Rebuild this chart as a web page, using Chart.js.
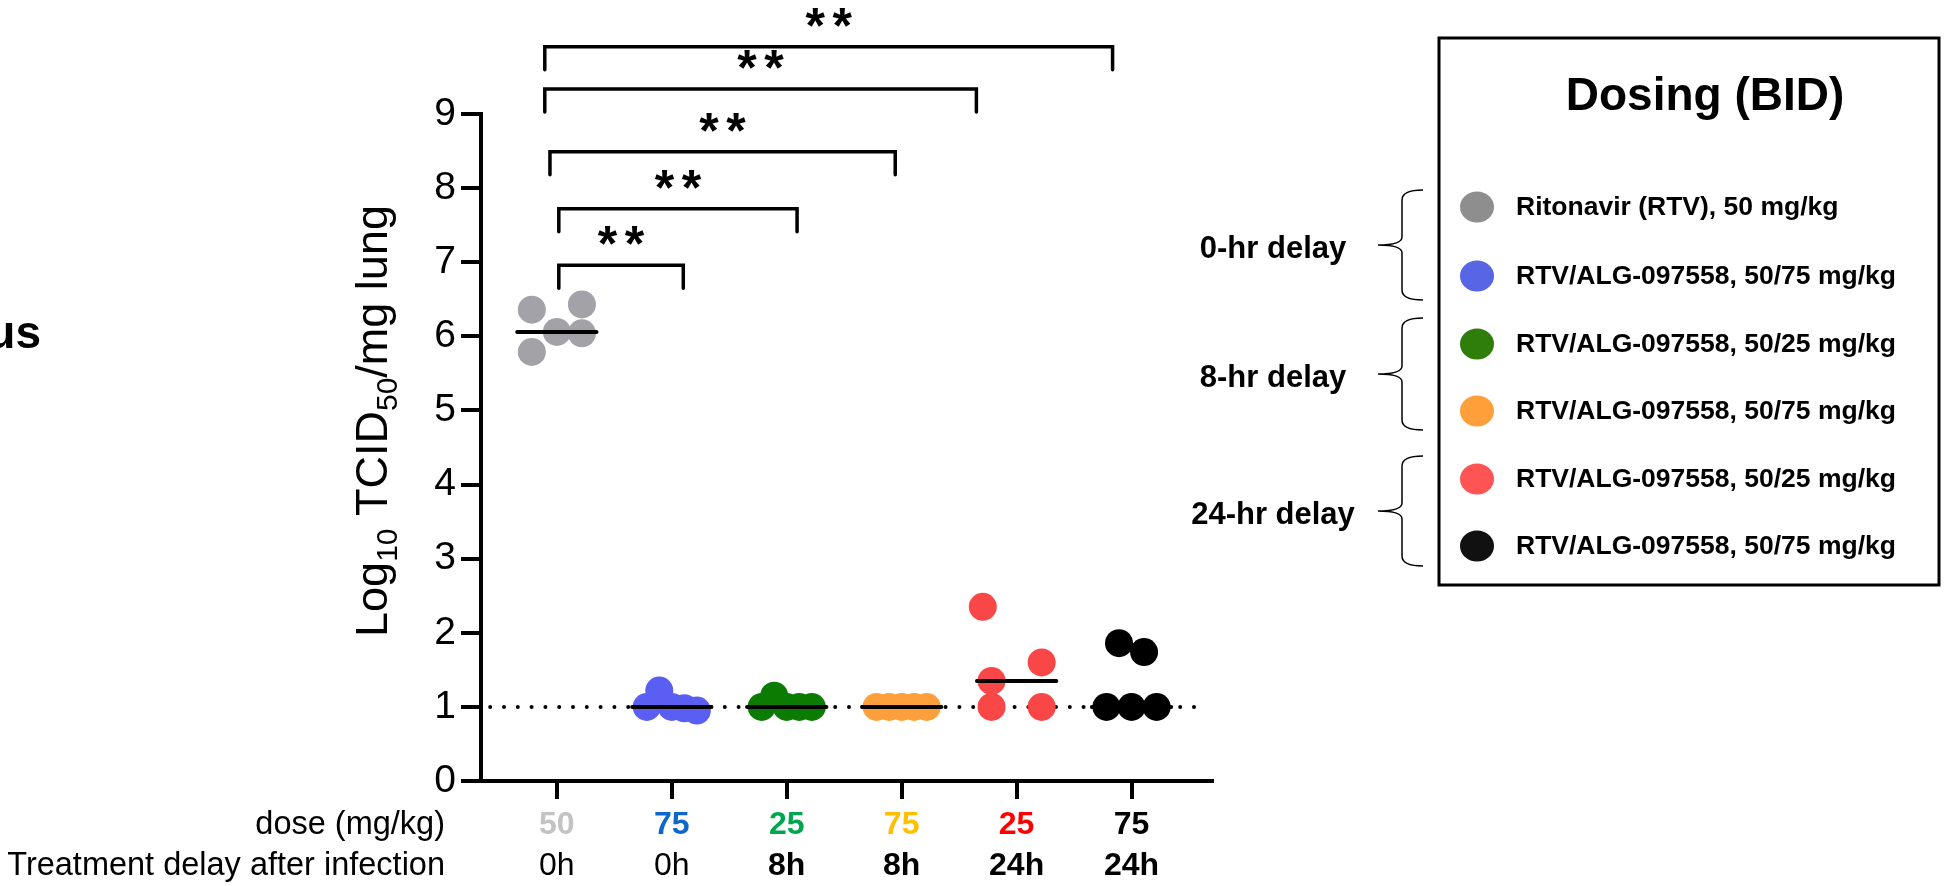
<!DOCTYPE html>
<html><head><meta charset="utf-8">
<script src="https://cdn.jsdelivr.net/npm/chart.js@4.4.1/dist/chart.umd.min.js"></script>
<style>html,body{margin:0;padding:0;background:#fff;}canvas{display:block;}</style>
</head><body>
<canvas id="c" width="1959" height="886"></canvas>
<script>
// ---------- data ----------
const categories = [1, 2, 3, 4, 5, 6];
const doseLabels = ['50', '75', '25', '75', '25', '75'];
const delayLabels = ['0h', '0h', '8h', '8h', '24h', '24h'];
const delayBold = [false, false, true, true, true, true];
const doseColors = ['#c3c3c3', '#0d66c9', '#00a64f', '#ffbf00', '#ff0000', '#000000'];
const yTicks = [0, 1, 2, 3, 4, 5, 6, 7, 8, 9];
const LOD = 1;

// Log10 TCID50/mg lung per animal, per group
const rtv50_0h = [6.36, 6.06, 6.43, 5.79, 6.04];
const alg75_0h = [1.0, 1.22, 1.0, 0.98, 0.95];
const alg25_8h = [1.0, 1.15, 1.0, 1.0, 1.0];
const alg75_8h = [1.0, 1.0, 1.0, 1.0, 1.0];
const alg25_24h = [1.35, 1.0, 2.35, 1.6, 1.0];
const alg75_24h = [1.0, 1.86, 1.0, 1.74, 1.0];

// scatter spread (column-scatter slot of each animal)
const spread_rtv50_0h = [-2, 0, 2, -2, 2];
const spread_alg75_0h = [-2, -1, 0, 1, 2];
const spread_alg25_8h = [-2, -1, 0, 1, 2];
const spread_alg75_8h = [-2, -1, 0, 1, 2];
const spread_alg25_24h = [-2, -2, -2.7, 2, 2];
const spread_alg75_24h = [-2, -1, 0, 1, 2];

const seriesColors = ['#a3a2a8', '#5a5ef3', '#0b7b02', '#ff9f3b', '#f94646', '#000000'];
const legendColors = ['#8e8e8e', '#5866e6', '#2f7d0b', '#ff9f3a', '#ff5454', '#111111'];
const legendLabels = ['Ritonavir (RTV), 50 mg/kg', 'RTV/ALG-097558, 50/75 mg/kg', 'RTV/ALG-097558, 50/25 mg/kg',
  'RTV/ALG-097558, 50/75 mg/kg', 'RTV/ALG-097558, 50/25 mg/kg', 'RTV/ALG-097558, 50/75 mg/kg'];
const delayGroups = ['0-hr delay', '8-hr delay', '24-hr delay'];

// significance brackets (x in category units, level in log10 units)
const bracketLeft = [0.895, 0.895, 0.94, 1.017, 1.017];
const bracketRight = [5.835, 4.65, 3.944, 3.09, 2.10];
const bracketLevel = [9.906, 9.339, 8.489, 7.72, 6.96];
const bracketText = ['**', '**', '**', '**', '**'];

// ---------- build ----------
const groupValues = [rtv50_0h, alg75_0h, alg25_8h, alg75_8h, alg25_24h, alg75_24h];
const groupSpread = [spread_rtv50_0h, spread_alg75_0h, spread_alg25_8h, spread_alg75_8h, spread_alg25_24h, spread_alg75_24h];
const spreadStep = 0.109;
const medianHalf = 0.345;
function median(a) { const s = [...a].sort((p, q) => p - q); return s[Math.floor(s.length / 2)]; }

const datasets = [];
datasets.push({
  type: 'line', data: [{x: 0.42, y: LOD}, {x: 6.58, y: LOD}], borderColor: '#000', borderWidth: 4,
  borderDash: [0, 13.8], borderCapStyle: 'round', pointRadius: 0, order: 10
});
groupValues.forEach((vals, g) => {
  datasets.push({
    type: 'scatter',
    data: vals.map((v, i) => ({x: categories[g] + groupSpread[g][i] * spreadStep, y: v})),
    backgroundColor: seriesColors[g], borderWidth: 0, pointRadius: 14, pointHoverRadius: 14, order: 5
  });
});
groupValues.forEach((vals, g) => {
  const m = median(vals);
  datasets.push({
    type: 'line', data: [{x: categories[g] - medianHalf, y: m}, {x: categories[g] + medianHalf, y: m}],
    borderColor: '#000', borderWidth: 4, borderCapStyle: 'round', pointRadius: 0, order: 1
  });
});

const FONT = '"Liberation Sans", Arial, sans-serif';

const overlay = {
  id: 'overlay',
  afterDraw(chart) {
    const c = chart.ctx, xs = chart.scales.x, ys = chart.scales.y;
    c.save();
    c.fillStyle = '#000'; c.strokeStyle = '#000';

    // y title with subscripts
    const fs = 45, sub = 30;
    const parts = [['Log', false], ['10', true], [' TCID', false], ['50', true], ['/mg lung', false]];
    let w = 0;
    parts.forEach(p => { c.font = (p[1] ? sub : fs) + 'px ' + FONT; w += c.measureText(p[0]).width; });
    c.save();
    c.translate(371, 421);
    c.rotate(-Math.PI / 2);
    c.textBaseline = 'alphabetic'; c.textAlign = 'left';
    let px = -w / 2;
    parts.forEach(p => {
      c.font = (p[1] ? sub : fs) + 'px ' + FONT;
      c.fillText(p[0], px, p[1] ? 26 : 16);
      px += c.measureText(p[0]).width;
    });
    c.restore();

    // x rows
    c.textBaseline = 'middle';
    c.textAlign = 'right';
    c.font = '32.5px ' + FONT;
    c.fillText('dose (mg/kg)', 445, 825);
    c.fillText('Treatment delay after infection', 445, 866);
    c.textAlign = 'center';
    categories.forEach((cat, i) => {
      const x = xs.getPixelForValue(cat);
      c.font = 'bold 32px ' + FONT;
      c.fillStyle = doseColors[i];
      c.fillText(doseLabels[i], x, 825);
      c.fillStyle = '#000';
      c.font = (delayBold[i] ? 'bold ' : '') + '32px ' + FONT;
      c.fillText(delayLabels[i], x, 866);
    });

    // cut-off text at left edge
    c.textAlign = 'right'; c.textBaseline = 'alphabetic';
    c.font = 'bold 46px ' + FONT;
    c.fillText('us', 41, 348);

    // brackets
    c.lineWidth = 3.5; c.lineCap = 'round'; c.lineJoin = 'miter';
    bracketLevel.forEach((lv, i) => {
      const x1 = xs.getPixelForValue(bracketLeft[i]), x2 = xs.getPixelForValue(bracketRight[i]);
      const y = ys.getPixelForValue(lv);
      c.beginPath();
      c.moveTo(x1, y + 23); c.lineTo(x1, y); c.lineTo(x2, y); c.lineTo(x2, y + 23);
      c.stroke();
      c.font = 'bold 50px ' + FONT;
      c.textAlign = 'center'; c.textBaseline = 'middle';
      const cx = (x1 + x2) / 2;
      c.fillText('*', cx - 13.5, y - 18);
      c.fillText('*', cx + 13.5, y - 18);
    });

    // legend box
    c.lineWidth = 3; c.lineCap = 'butt';
    c.strokeRect(1439, 38, 500, 547);
    c.textAlign = 'center'; c.textBaseline = 'middle';
    c.font = 'bold 46px ' + FONT;
    c.fillText('Dosing (BID)', 1705, 97);
    const rows = [207, 276, 344, 411, 479, 546];
    legendLabels.forEach((lab, i) => {
      c.fillStyle = legendColors[i];
      c.beginPath(); c.ellipse(1477, rows[i], 17, 15.5, 0, 0, Math.PI * 2); c.fill();
      c.fillStyle = '#000';
      c.textAlign = 'left';
      c.font = 'bold 26.5px ' + FONT;
      c.fillText(lab, 1516, rows[i] + 1);
    });

    // braces + group labels
    const braces = [[190, 300], [318, 430], [456, 566]];
    c.lineWidth = 1.5;
    braces.forEach((b, i) => {
      const top = b[0], bot = b[1], mid = (top + bot) / 2;
      const xe = 1423, xb = 1402, xt = 1378;
      c.beginPath();
      c.moveTo(xe, top);
      c.quadraticCurveTo(xb, top, xb, top + 10);
      c.lineTo(xb, mid - 8);
      c.quadraticCurveTo(xb, mid, xt, mid);
      c.quadraticCurveTo(xb, mid, xb, mid + 8);
      c.lineTo(xb, bot - 10);
      c.quadraticCurveTo(xb, bot, xe, bot);
      c.stroke();
      c.font = 'bold 31px ' + FONT;
      c.textAlign = 'center';
      c.fillText(delayGroups[i], 1273, mid + 4);
    });
    c.restore();
  }
};

new Chart(document.getElementById('c'), {
  data: {datasets},
  options: {
    responsive: false, animation: false,
    layout: {padding: {left: 0, right: 747, top: 114, bottom: 0}},
    plugins: {legend: {display: false}, tooltip: {enabled: false}},
    scales: {
      x: {
        type: 'linear', position: 'bottom', min: 0.34, max: 6.7,
        afterBuildTicks: s => { s.ticks = categories.map(v => ({value: v})); },
        afterFit: s => { s.height = 105; },
        ticks: {display: false},
        grid: {drawOnChartArea: false, drawTicks: true, tickLength: 18, tickWidth: 4, tickColor: '#000', color: '#000', lineWidth: 4},
        border: {display: true, color: '#000', width: 4}
      },
      y: {
        type: 'linear', min: 0, max: 9,
        afterBuildTicks: s => { s.ticks = yTicks.map(v => ({value: v})); },
        afterFit: s => { s.width = 481; },
        ticks: {color: '#000', font: {size: 39, family: FONT}, padding: 5},
        grid: {drawOnChartArea: false, drawTicks: true, tickLength: 20, tickWidth: 4, tickColor: '#000', color: '#000', lineWidth: 4},
        border: {display: true, color: '#000', width: 4}
      }
    }
  },
  plugins: [overlay]
});
</script>
</body></html>
